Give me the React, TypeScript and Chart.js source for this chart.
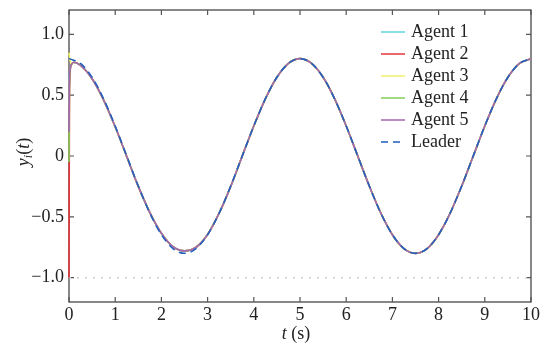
import { useEffect, useRef } from 'react';
import { Chart, registerables } from 'chart.js';

Chart.register(...registerables);

const FONT = '"Liberation Serif", "Times New Roman", serif';

// Time grids (s)
const leaderT = [0, 0.25, 0.5, 0.75, 1, 1.25, 1.5, 1.75, 2, 2.25, 2.5, 2.75, 3, 3.25, 3.5, 3.75, 4, 4.25, 4.5, 4.75, 5, 5.25, 5.5, 5.75, 6, 6.25, 6.5, 6.75, 7, 7.25, 7.5, 7.75, 8, 8.25, 8.5, 8.75, 9, 9.25, 9.5, 9.75, 10];
const leaderY = [0.8, 0.761, 0.647, 0.47, 0.247, 0, -0.247, -0.47, -0.647, -0.761, -0.8, -0.761, -0.647, -0.47, -0.247, 0, 0.247, 0.47, 0.647, 0.761, 0.8, 0.761, 0.647, 0.47, 0.247, 0, -0.247, -0.47, -0.647, -0.761, -0.8, -0.761, -0.647, -0.47, -0.247, 0, 0.247, 0.47, 0.647, 0.761, 0.8];

const agentT = [0, 0.01, 0.05, 0.1, 0.25, 0.5, 0.75, 1, 1.25, 1.5, 1.75, 2, 2.25, 2.5, 2.75, 3, 3.25, 3.5, 3.75, 4, 4.25, 4.5, 4.75, 5, 5.25, 5.5, 5.75, 6, 6.25, 6.5, 6.75, 7, 7.25, 7.5, 7.75, 8, 8.25, 8.5, 8.75, 9, 9.25, 9.5, 9.75, 10];
const agentTail = [0.75, 0.77, 0.745, 0.635, 0.46, 0.24, -0.005, -0.25, -0.465, -0.635, -0.745, -0.78, -0.75, -0.645, -0.47, -0.25, 0, 0.247, 0.47, 0.647, 0.761, 0.8, 0.761, 0.647, 0.47, 0.247, 0, -0.247, -0.47, -0.647, -0.761, -0.8, -0.761, -0.647, -0.47, -0.247, 0, 0.247, 0.47, 0.647, 0.761, 0.8];
const agent1 = [0.4, 0.66, ...agentTail];
const agent2 = [-1.0, 0.55, ...agentTail];
const agent3 = [0.85, 0.82, ...agentTail];
const agent4 = [-0.05, 0.6, ...agentTail];
const agent5 = [0.2, 0.63, ...agentTail];

const refT = [0, 10];
const refY = [-1, -1];

const xTicks = [0, 1, 2, 3, 4, 5, 6, 7, 8, 9, 10];
const yTicks = [-1, -0.5, 0, 0.5, 1];
const yTickLabels = ['\u22121.0', '\u22120.5', '0', '0.5', '1.0'];

const agentLabels = ['Agent 1', 'Agent 2', 'Agent 3', 'Agent 4', 'Agent 5'];
const agentColors = ['#62d3df', '#e2343c', '#f2ee6c', '#84cc58', '#a665b0'];
const leaderColor = '#1f5fc0';

const zip = (t: number[], y: number[]) => t.map((x, i) => ({ x, y: y[i] }));

function drawParts(ctx: CanvasRenderingContext2D, parts: { t: string; it?: boolean; sub?: boolean }[], size: number) {
  const fontOf = (p: any) => `${p.it ? 'italic ' : ''}${p.sub ? Math.round(size * 0.68) : size}px ${FONT}`;
  let w = 0;
  parts.forEach((p) => { ctx.font = fontOf(p); w += ctx.measureText(p.t).width; });
  let x = -w / 2;
  parts.forEach((p) => {
    ctx.font = fontOf(p);
    ctx.fillText(p.t, x, p.sub ? size * 0.28 : 0);
    x += ctx.measureText(p.t).width;
  });
}

const framePlugin = {
  id: 'frame',
  beforeDatasetsDraw(chart: any) {
    const ctx: CanvasRenderingContext2D = chart.ctx;
    const { left, right, top, bottom } = chart.chartArea;
    const xs = chart.scales.x;
    const ys = chart.scales.y;
    ctx.save();
    ctx.strokeStyle = '#555';
    ctx.lineWidth = 1.4;
    ctx.strokeRect(left, top, right - left, bottom - top);
    ctx.lineWidth = 1.2;
    ctx.beginPath();
    xTicks.forEach((v) => {
      const px = xs.getPixelForValue(v);
      ctx.moveTo(px, bottom); ctx.lineTo(px, bottom - 5);
      ctx.moveTo(px, top); ctx.lineTo(px, top + 5);
    });
    yTicks.forEach((v) => {
      const py = ys.getPixelForValue(v);
      ctx.moveTo(left, py); ctx.lineTo(left + 5, py);
      ctx.moveTo(right, py); ctx.lineTo(right - 5, py);
    });
    ctx.stroke();
    ctx.restore();
  },
  afterDraw(chart: any) {
    const ctx: CanvasRenderingContext2D = chart.ctx;
    const { left, right } = chart.chartArea;
    ctx.save();
    // axis titles
    ctx.fillStyle = '#222';
    ctx.textBaseline = 'middle';
    ctx.textAlign = 'left';
    ctx.save();
    ctx.translate((left + right) / 2 - 4, 334);
    drawParts(ctx, [{ t: 't', it: true }, { t: ' (s)' }], 18);
    ctx.restore();
    ctx.save();
    ctx.translate(24, 152);
    ctx.rotate(-Math.PI / 2);
    drawParts(ctx, [{ t: 'y', it: true }, { t: 'i', it: true, sub: true }, { t: '(' }, { t: 't', it: true }, { t: ')' }], 18);
    ctx.restore();

    // legend
    const ds = chart.data.datasets.filter((d: any) => !d.hideLegend);
    const rowY = [32, 54, 76, 98, 120, 142];
    ds.forEach((d: any, i: number) => {
      const y = rowY[i];
      ctx.beginPath();
      ctx.strokeStyle = d.borderColor;
      ctx.lineWidth = 1.5;
      ctx.setLineDash(d.borderDash && d.borderDash.length ? [7, 5] : []);
      ctx.moveTo(381, y);
      ctx.lineTo(405, y);
      ctx.stroke();
      ctx.setLineDash([]);
      ctx.font = `18px ${FONT}`;
      ctx.fillStyle = '#222';
      ctx.textAlign = 'left';
      ctx.fillText(d.label, 411, y);
    });
    ctx.restore();
  },
};

export default function App() {
  const ref = useRef<HTMLCanvasElement>(null);
  useEffect(() => {
    if (!ref.current) return;
    const agents = [agent1, agent2, agent3, agent4, agent5];
    const datasets: any[] = agents.map((a, i) => ({
      label: agentLabels[i],
      data: zip(agentT, a),
      borderColor: agentColors[i],
      borderWidth: 1.6,
      pointRadius: 0,
      clip: 3,
      cubicInterpolationMode: 'monotone',
      order: 5 - i,
    }));
    datasets.push({
      label: 'Leader',
      data: zip(leaderT, leaderY),
      borderColor: leaderColor,
      borderWidth: 1.5,
      borderDash: [7, 5],
      pointRadius: 0,
      clip: 3,
      cubicInterpolationMode: 'monotone',
      order: 0,
    });
    datasets.push({
      label: 'ref',
      hideLegend: true,
      data: zip(refT, refY),
      borderColor: '#cfcfcf',
      borderWidth: 1.5,
      borderDash: [2, 6],
      pointRadius: 0,
      order: 10,
    });
    const chart = new Chart(ref.current, {
      type: 'line',
      data: { datasets },
      options: {
        animation: false,
        responsive: false,
        layout: { padding: { left: 0, right: 14, top: 10, bottom: 0 } },
        plugins: { legend: { display: false }, tooltip: { enabled: false } },
        scales: {
          x: {
            type: 'linear',
            min: 0,
            max: 10,
            grid: { display: false, drawTicks: false },
            border: { display: false },
            afterBuildTicks: (s: any) => { s.ticks = xTicks.map((v) => ({ value: v })); },
            afterFit: (s: any) => { s.height = 45; s.paddingLeft = 0; s.paddingRight = 0; },
            ticks: { font: { family: FONT, size: 18 }, color: '#222', padding: 2, maxRotation: 0, callback: (v: any) => String(v) },
          },
          y: {
            type: 'linear',
            min: -1.2,
            max: 1.2,
            grid: { display: false, drawTicks: false },
            border: { display: false },
            afterBuildTicks: (s: any) => { s.ticks = yTicks.map((v) => ({ value: v })); },
            afterFit: (s: any) => { s.width = 69; s.paddingTop = 0; s.paddingBottom = 0; },
            ticks: {
              font: { family: FONT, size: 18 },
              color: '#222',
              padding: 5,
              callback: (v: any) => { const i = yTicks.indexOf(Number(v)); return i >= 0 ? yTickLabels[i] : ''; },
            },
          },
        },
      } as any,
      plugins: [framePlugin],
    });
    return () => chart.destroy();
  }, []);
  return (
    <div style={{ position: 'fixed', left: 0, top: 0, width: 545, height: 347, background: '#fff' }}>
      <canvas ref={ref} width={545} height={347} />
    </div>
  );
}
